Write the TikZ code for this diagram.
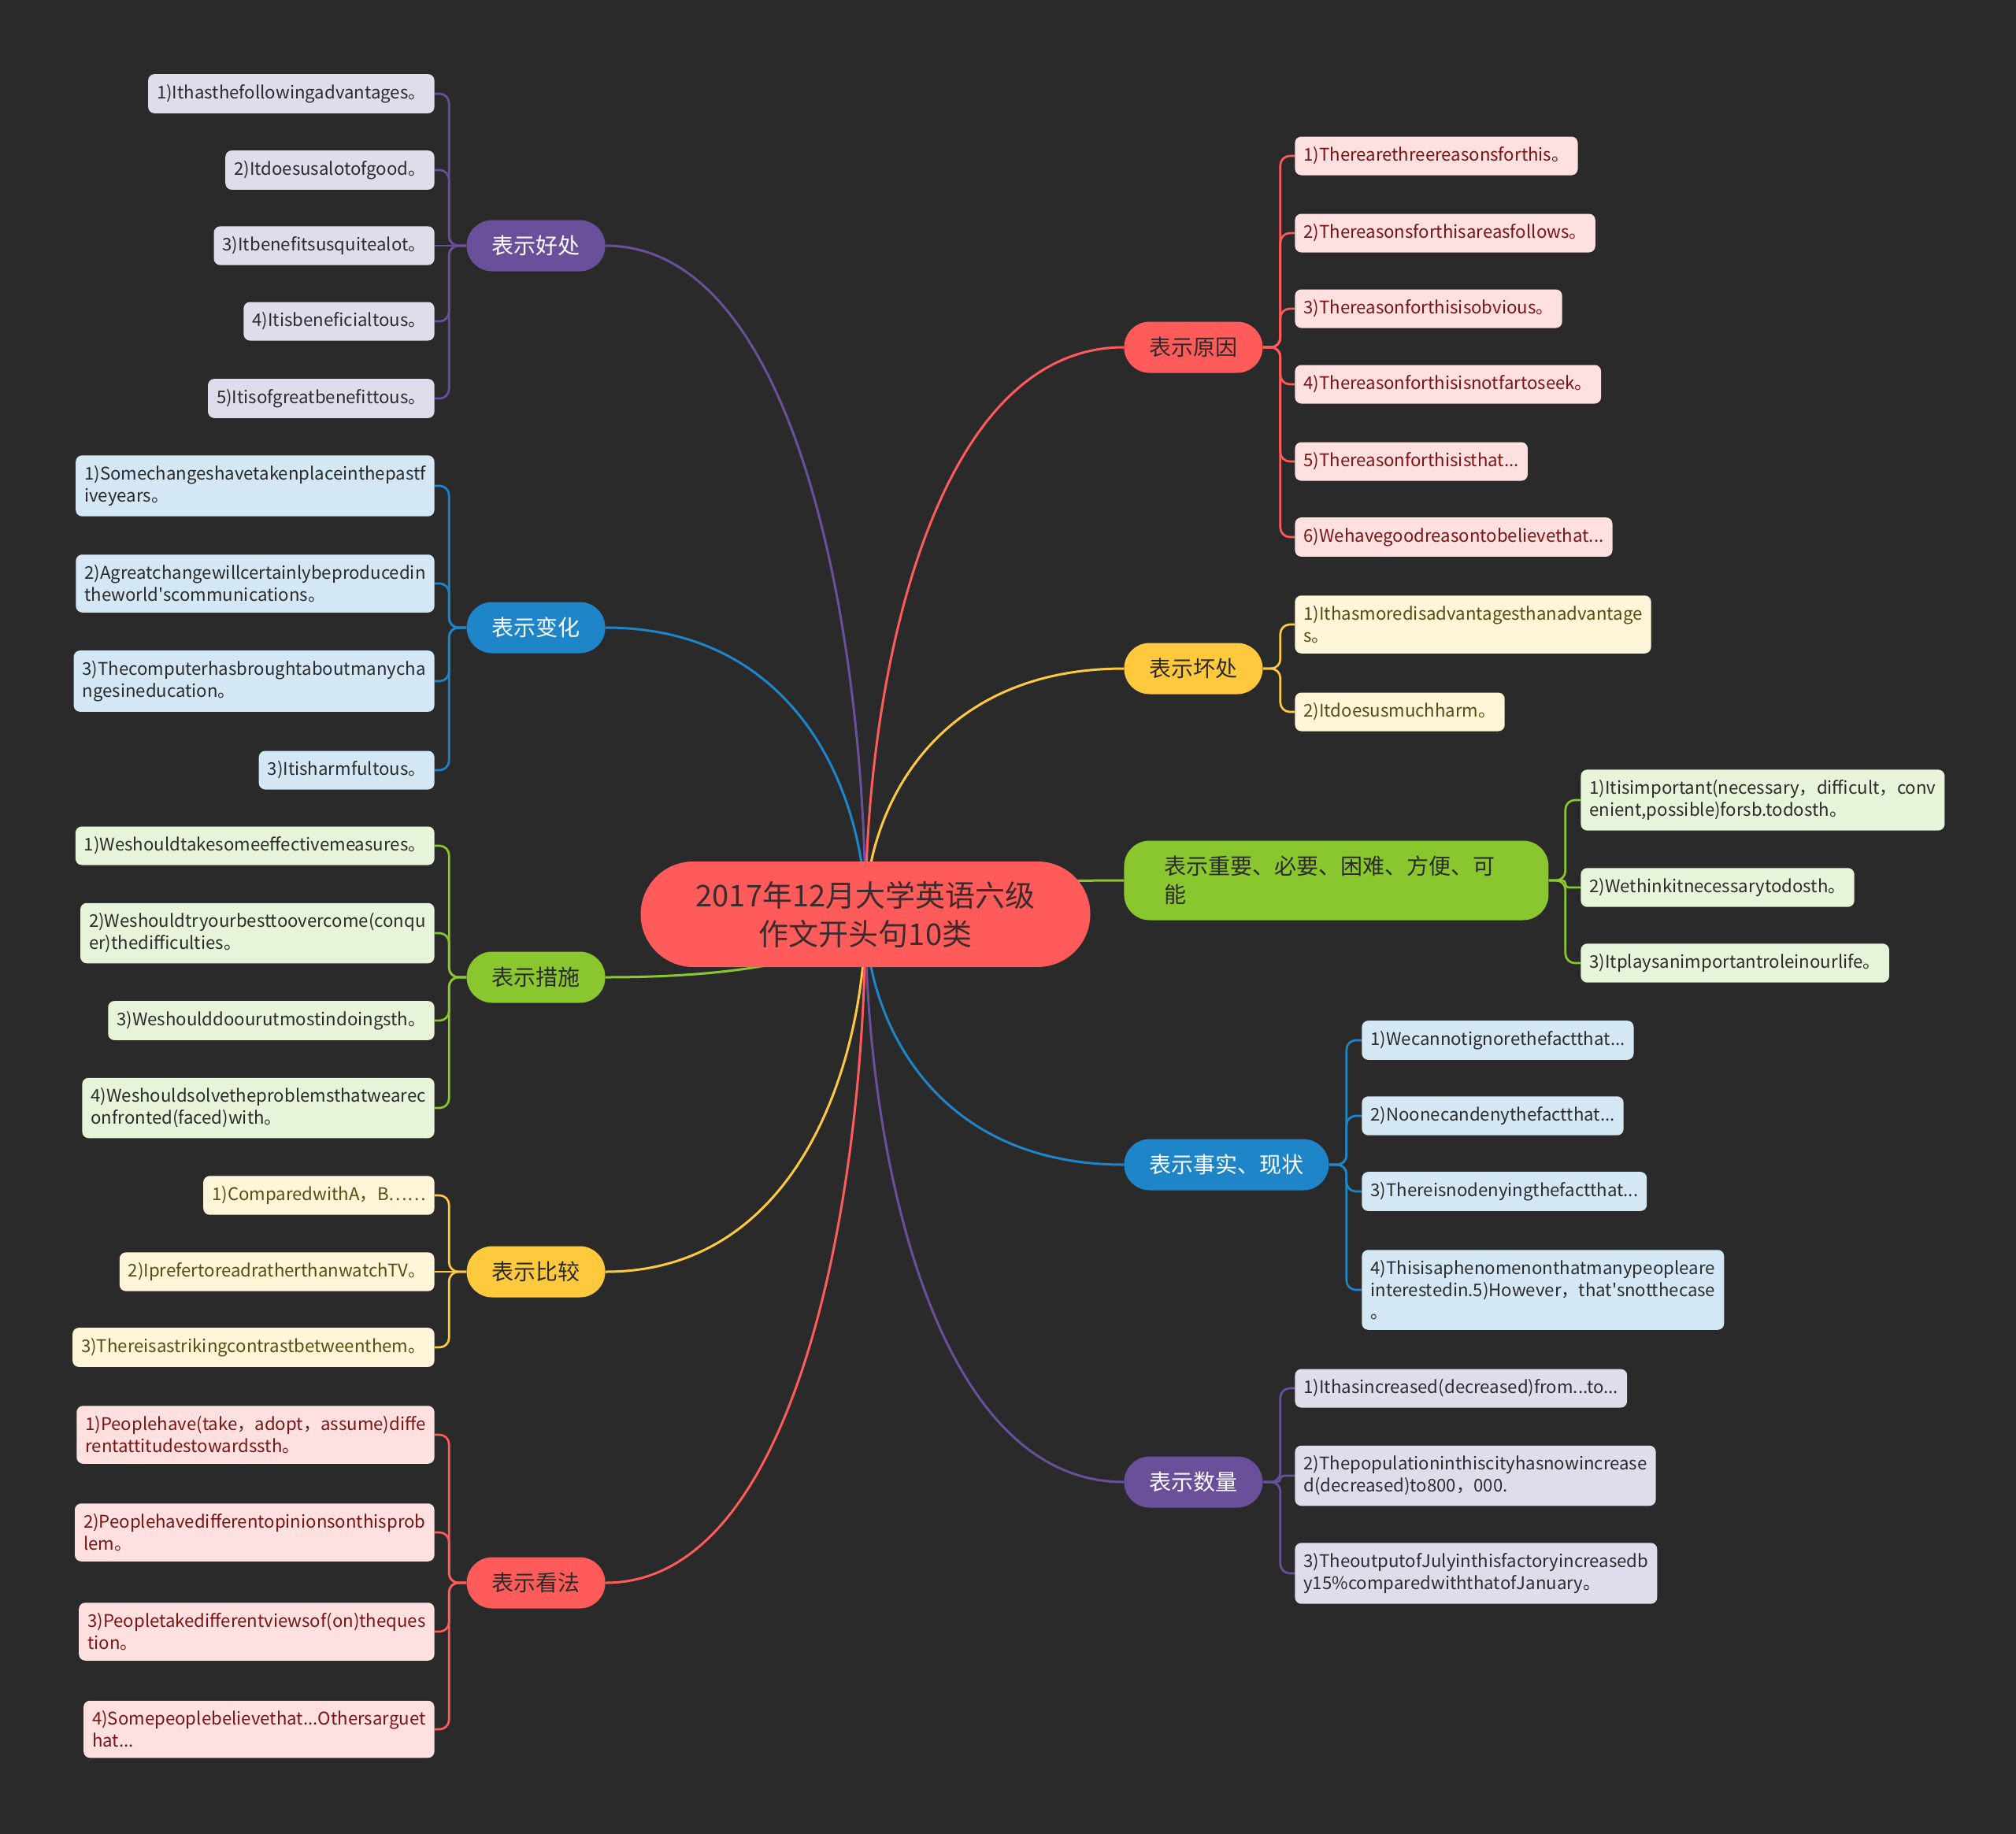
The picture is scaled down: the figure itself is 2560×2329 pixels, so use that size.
\documentclass[tikz,border=0pt]{standalone}
\usepackage{fontspec}
\setmainfont{Noto Sans CJK SC}[Ligatures=TeXOff]
\usepackage{xcolor}
\usepackage{tikz}
\pgfdeclarelayer{background}
\pgfsetlayers{background,main}
\definecolor{bgc}{HTML}{2A2A2A}
\definecolor{cred}{HTML}{FF5B5B}
\definecolor{cpur}{HTML}{6A4F9B}
\definecolor{cblu}{HTML}{1E85C8}
\definecolor{cgrn}{HTML}{8AC62E}
\definecolor{cyel}{HTML}{FFC93E}
\definecolor{lred}{HTML}{FFE0E0}
\definecolor{lpur}{HTML}{E1DCEB}
\definecolor{lblu}{HTML}{D3E7F5}
\definecolor{lgrn}{HTML}{E8F4D9}
\definecolor{lyel}{HTML}{FFF5D9}
\definecolor{tred}{HTML}{7A1414}
\definecolor{tyel}{HTML}{5C4A10}
\definecolor{tdark}{HTML}{2B2B2B}
\definecolor{troot}{HTML}{3A2C2C}

\begin{document}
\begin{tikzpicture}[x=0.5pt, y=-0.5pt,
  root/.style={fill=cred, text=troot, rounded corners=33.5pt, minimum width=285.5pt,
               minimum height=67pt, align=center, font=\fontsize{19}{24.5}\selectfont},
  topic/.style={rounded corners=16.25pt, minimum height=32.5pt, inner xsep=16pt,
                font=\fontsize{14}{18}\selectfont},
  leaf/.style={rounded corners=4pt, minimum height=24.5pt, inner xsep=5.5pt, inner ysep=6.5pt,
               align=left, font=\fontsize{11.1}{14}\selectfont},
  pleaf/.style={leaf, fill=lpur, text=tdark},
  bleaf/.style={leaf, fill=lblu, text=tdark},
  gleaf/.style={leaf, fill=lgrn, text=tdark},
  yleaf/.style={leaf, fill=lyel, text=tyel},
  rleaf/.style={leaf, fill=lred, text=tred},
  link/.style={line width=1.5pt},
  twig/.style={line width=1.35pt, rounded corners=6pt}]

  \node[root] (c) at (1099,1161) {2017年12月大学英语六级\\作文开头句10类};

  \node[topic, fill=cpur, text=white, anchor=east] (b1) at (769,312) {表示好处};
  \node[topic, fill=cblu, text=white, anchor=east] (b2) at (769,797) {表示变化};
  \node[topic, fill=cgrn, text=tdark, anchor=east] (b3) at (769,1241) {表示措施};
  \node[topic, fill=cyel, text=tdark, anchor=east] (b4) at (769,1615) {表示比较};
  \node[topic, fill=cred, text=tdark, anchor=east] (b5) at (769,2010) {表示看法};

  \node[topic, fill=cred, text=tdark, anchor=west] (r1) at (1427,441) {表示原因};
  \node[topic, fill=cyel, text=tdark, anchor=west] (r2) at (1427,849) {表示坏处};
  \node[topic, fill=cgrn, text=tdark, anchor=west, minimum height=50.5pt, inner xsep=25.5pt,
        text width=218.5pt, align=left] (r3) at (1427,1118) {表示重要、必要、困难、方便、可\\能};
  \node[topic, fill=cblu, text=white, anchor=west] (r4) at (1427,1479) {表示事实、现状};
  \node[topic, fill=cpur, text=white, anchor=west] (r5) at (1427,1882) {表示数量};

  \node[pleaf, anchor=east] (b1-1) at (552,119) {1)Ithasthefollowingadvantages。};
  \node[pleaf, anchor=east] (b1-2) at (552,216) {2)Itdoesusalotofgood。};
  \node[pleaf, anchor=east] (b1-3) at (552,312) {3)Itbenefitsusquitealot。};
  \node[pleaf, anchor=east] (b1-4) at (552,408) {4)Itisbeneficialtous。};
  \node[pleaf, anchor=east] (b1-5) at (552,506) {5)Itisofgreatbenefittous。};

  \node[bleaf, anchor=east] (b2-1) at (552,617) {1)Somechangeshavetakenplaceinthepastf\\iveyears。};
  \node[bleaf, anchor=east] (b2-2) at (552,741) {2)Agreatchangewillcertainlybeproducedin\\theworld'scommunications。};
  \node[bleaf, anchor=east] (b2-3) at (552,865) {3)Thecomputerhasbroughtaboutmanycha\\ngesineducation。};
  \node[bleaf, anchor=east] (b2-4) at (552,978) {3)Itisharmfultous。};

  \node[gleaf, anchor=east] (b3-1) at (552,1074) {1)Weshouldtakesomeeffectivemeasures。};
  \node[gleaf, anchor=east] (b3-2) at (552,1185) {2)Weshouldtryourbesttoovercome(conqu\\er)thedifficulties。};
  \node[gleaf, anchor=east] (b3-3) at (552,1296) {3)Weshoulddoourutmostindoingsth。};
  \node[gleaf, anchor=east] (b3-4) at (552,1407) {4)Weshouldsolvetheproblemsthatwearec\\onfronted(faced)with。};

  \node[yleaf, anchor=east] (b4-1) at (552,1518) {1)ComparedwithA，B……};
  \node[yleaf, anchor=east] (b4-2) at (552,1615) {2)IprefertoreadratherthanwatchTV。};
  \node[yleaf, anchor=east] (b4-3) at (552,1711) {3)Thereisastrikingcontrastbetweenthem。};

  \node[rleaf, anchor=east] (b5-1) at (552,1822) {1)Peoplehave(take，adopt，assume)diffe\\rentattitudestowardssth。};
  \node[rleaf, anchor=east] (b5-2) at (552,1946) {2)Peoplehavedifferentopinionsonthisprob\\lem。};
  \node[rleaf, anchor=east] (b5-3) at (552,2072) {3)Peopletakedifferentviewsof(on)theques\\tion。};
  \node[rleaf, anchor=east] (b5-4) at (552,2196) {4)Somepeoplebelievethat...Othersarguet\\hat...};

  \node[rleaf, anchor=west] (r1-1) at (1644,198) {1)Therearethreereasonsforthis。};
  \node[rleaf, anchor=west] (r1-2) at (1644,296) {2)Thereasonsforthisareasfollows。};
  \node[rleaf, anchor=west] (r1-3) at (1644,392) {3)Thereasonforthisisobvious。};
  \node[rleaf, anchor=west] (r1-4) at (1644,488) {4)Thereasonforthisisnotfartoseek。};
  \node[rleaf, anchor=west] (r1-5) at (1644,586) {5)Thereasonforthisisthat...};
  \node[rleaf, anchor=west] (r1-6) at (1644,682) {6)Wehavegoodreasontobelievethat...};

  \node[yleaf, anchor=west] (r2-1) at (1644,793) {1)Ithasmoredisadvantagesthanadvantage\\s。};
  \node[yleaf, anchor=west] (r2-2) at (1644,904) {2)Itdoesusmuchharm。};

  \node[gleaf, anchor=west] (r3-1) at (2007,1016) {1)Itisimportant(necessary，difficult，conv\\enient,possible)forsb.todosth。};
  \node[gleaf, anchor=west] (r3-2) at (2007,1127) {2)Wethinkitnecessarytodosth。};
  \node[gleaf, anchor=west] (r3-3) at (2007,1223) {3)Itplaysanimportantroleinourlife。};

  \node[bleaf, anchor=west] (r4-1) at (1729,1321) {1)Wecannotignorethefactthat...};
  \node[bleaf, anchor=west] (r4-2) at (1729,1417) {2)Noonecandenythefactthat...};
  \node[bleaf, anchor=west] (r4-3) at (1729,1513) {3)Thereisnodenyingthefactthat...};
  \node[bleaf, anchor=west] (r4-4) at (1729,1638) {4)Thisisaphenomenonthatmanypeopleare\\interestedin.5)However，that'snotthecase\\。};

  \node[pleaf, anchor=west] (r5-1) at (1644,1763) {1)Ithasincreased(decreased)from...to...};
  \node[pleaf, anchor=west] (r5-2) at (1644,1874) {2)Thepopulationinthiscityhasnowincrease\\d(decreased)to800，000.};
  \node[pleaf, anchor=west] (r5-3) at (1644,1998) {3)TheoutputofJulyinthisfactoryincreasedb\\y15\%comparedwiththatofJanuary。};

  \begin{pgfonlayer}{background}
  \fill[bgc] (0,0) rectangle (2560,2329);

  \draw[link, cpur] (c.center) .. controls +(0,-340) and +(248,0) .. (b1.east);
  \draw[link, cblu] (c.center) .. controls +(0,-146) and +(248,0) .. (b2.east);
  \draw[link, cgrn] (c.center) .. controls +(0,32) and +(248,0) .. (b3.east);
  \draw[link, cyel] (c.center) .. controls +(0,182) and +(248,0) .. (b4.east);
  \draw[link, cred] (c.center) .. controls +(0,340) and +(248,0) .. (b5.east);
  \draw[link, cred] (c.center) .. controls +(0,-288) and +(-246,0) .. (r1.west);
  \draw[link, cyel] (c.center) .. controls +(0,-125) and +(-246,0) .. (r2.west);
  \draw[link, cgrn] (c.center) .. controls +(0,-17) and +(-246,0) .. (r3.west);
  \draw[link, cblu] (c.center) .. controls +(0,127) and +(-246,0) .. (r4.west);
  \draw[link, cpur] (c.center) .. controls +(0,288) and +(-246,0) .. (r5.west);

  \draw[twig, cpur] (b1.west) -- ++(-22,0) |- (b1-1.east);
  \draw[twig, cpur] (b1.west) -- ++(-22,0) |- (b1-2.east);
  \draw[twig, cpur] (b1.west) -- (b1-3.east);
  \draw[twig, cpur] (b1.west) -- ++(-22,0) |- (b1-4.east);
  \draw[twig, cpur] (b1.west) -- ++(-22,0) |- (b1-5.east);

  \draw[twig, cblu] (b2.west) -- ++(-22,0) |- (b2-1.east);
  \draw[twig, cblu] (b2.west) -- ++(-22,0) |- (b2-2.east);
  \draw[twig, cblu] (b2.west) -- ++(-22,0) |- (b2-3.east);
  \draw[twig, cblu] (b2.west) -- ++(-22,0) |- (b2-4.east);

  \draw[twig, cgrn] (b3.west) -- ++(-22,0) |- (b3-1.east);
  \draw[twig, cgrn] (b3.west) -- ++(-22,0) |- (b3-2.east);
  \draw[twig, cgrn] (b3.west) -- ++(-22,0) |- (b3-3.east);
  \draw[twig, cgrn] (b3.west) -- ++(-22,0) |- (b3-4.east);

  \draw[twig, cyel] (b4.west) -- ++(-22,0) |- (b4-1.east);
  \draw[twig, cyel] (b4.west) -- (b4-2.east);
  \draw[twig, cyel] (b4.west) -- ++(-22,0) |- (b4-3.east);

  \draw[twig, cred] (b5.west) -- ++(-22,0) |- (b5-1.east);
  \draw[twig, cred] (b5.west) -- ++(-22,0) |- (b5-2.east);
  \draw[twig, cred] (b5.west) -- ++(-22,0) |- (b5-3.east);
  \draw[twig, cred] (b5.west) -- ++(-22,0) |- (b5-4.east);

  \draw[twig, cred] (r1.east) -- ++(22,0) |- (r1-1.west);
  \draw[twig, cred] (r1.east) -- ++(22,0) |- (r1-2.west);
  \draw[twig, cred] (r1.east) -- ++(22,0) |- (r1-3.west);
  \draw[twig, cred] (r1.east) -- ++(22,0) |- (r1-4.west);
  \draw[twig, cred] (r1.east) -- ++(22,0) |- (r1-5.west);
  \draw[twig, cred] (r1.east) -- ++(22,0) |- (r1-6.west);

  \draw[twig, cyel] (r2.east) -- ++(22,0) |- (r2-1.west);
  \draw[twig, cyel] (r2.east) -- ++(22,0) |- (r2-2.west);

  \draw[twig, cgrn] (r3.east) -- ++(21,0) |- (r3-1.west);
  \draw[twig, cgrn, rounded corners=2pt] (r3.east) -- ++(21,0) |- (r3-2.west);
  \draw[twig, cgrn] (r3.east) -- ++(21,0) |- (r3-3.west);

  \draw[twig, cblu] (r4.east) -- ++(22,0) |- (r4-1.west);
  \draw[twig, cblu] (r4.east) -- ++(22,0) |- (r4-2.west);
  \draw[twig, cblu] (r4.east) -- ++(22,0) |- (r4-3.west);
  \draw[twig, cblu] (r4.east) -- ++(22,0) |- (r4-4.west);

  \draw[twig, cpur] (r5.east) -- ++(22,0) |- (r5-1.west);
  \draw[twig, cpur, rounded corners=2pt] (r5.east) -- ++(22,0) |- (r5-2.west);
  \draw[twig, cpur] (r5.east) -- ++(22,0) |- (r5-3.west);
  \end{pgfonlayer}
\end{tikzpicture}
\end{document}
